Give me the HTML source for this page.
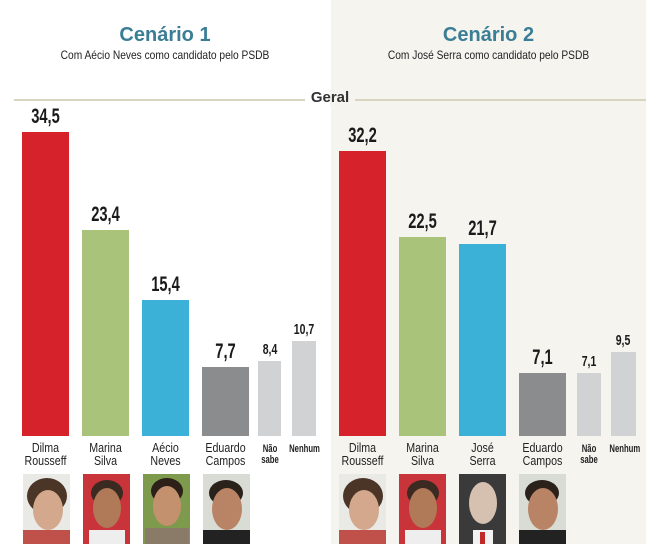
<!DOCTYPE html>
<html><head><meta charset="utf-8"><style>
body{margin:0;width:646px;height:544px;position:relative;overflow:hidden;background:#fff;font-family:"Liberation Sans Narrow","Liberation Sans",sans-serif;}
div{position:absolute;}
.bar{bottom:108px;}
.v{text-align:center;color:#1a1a1a;font-size:21px;font-weight:bold;transform:scaleX(.7);white-space:nowrap;}
.vs{font-size:15px;}
.n{text-align:center;color:#222;font-size:13px;line-height:13px;transform:scaleX(.82);white-space:nowrap;}
.ns{font-size:11px;line-height:11px;font-weight:bold;transform:scaleX(.7);}
.p{top:474px;height:70px;width:47px;overflow:hidden;}
.h{border-radius:50%;}
</style></head><body>
<div style="left:331px;top:0;width:315px;height:544px;background:#f5f4ef"></div>
<div style="left:0;top:24px;width:330px;text-align:center;color:#3a7e96;font-weight:bold;font-size:20px;font-family:'Liberation Sans',sans-serif">Cenário 1</div>
<div style="left:331px;top:24px;width:315px;text-align:center;color:#3a7e96;font-weight:bold;font-size:20px;font-family:'Liberation Sans',sans-serif">Cenário 2</div>
<div style="left:0;top:48px;width:330px;text-align:center;font-size:12px;color:#222;transform:scaleX(.85)">Com Aécio Neves como candidato pelo PSDB</div>
<div style="left:331px;top:48px;width:315px;text-align:center;font-size:12px;color:#222;transform:scaleX(.85)">Com José Serra  como candidato pelo PSDB</div>
<div style="left:14px;top:99px;width:632px;height:2px;background:#d9d4c0"></div>
<div style="left:305px;top:89px;width:50px;text-align:center;background:linear-gradient(90deg,#fff 50%,#f5f4ef 50%);font-size:15px;font-weight:bold;color:#333;font-family:'Liberation Sans',sans-serif">Geral</div>

<div class="bar" style="left:22px;width:47px;top:132px;background:#d5222b"></div>
<div class="bar" style="left:82px;width:47px;top:230px;background:#a9c37a"></div>
<div class="bar" style="left:142px;width:47px;top:300px;background:#3cb1d7"></div>
<div class="bar" style="left:202px;width:47px;top:367px;background:#8b8c8e"></div>
<div class="bar" style="left:258px;width:23px;top:361px;background:#d1d2d4"></div>
<div class="bar" style="left:292px;width:24px;top:341px;background:#d1d2d4"></div>
<div class="v" style="left:12px;width:67px;top:105px">34,5</div>
<div class="v" style="left:72px;width:67px;top:203px">23,4</div>
<div class="v" style="left:132px;width:67px;top:273px">15,4</div>
<div class="v" style="left:192px;width:67px;top:340px">7,7</div>
<div class="v vs" style="left:250px;width:40px;top:341px">8,4</div>
<div class="v vs" style="left:284px;width:40px;top:321px">10,7</div>

<div class="bar" style="left:339px;width:47px;top:151px;background:#d5222b"></div>
<div class="bar" style="left:399px;width:47px;top:237px;background:#a9c37a"></div>
<div class="bar" style="left:459px;width:47px;top:244px;background:#3cb1d7"></div>
<div class="bar" style="left:519px;width:47px;top:373px;background:#8b8c8e"></div>
<div class="bar" style="left:577px;width:24px;top:373px;background:#d1d2d4"></div>
<div class="bar" style="left:611px;width:25px;top:352px;background:#d1d2d4"></div>
<div class="v" style="left:329px;width:67px;top:124px">32,2</div>
<div class="v" style="left:389px;width:67px;top:210px">22,5</div>
<div class="v" style="left:449px;width:67px;top:217px">21,7</div>
<div class="v" style="left:509px;width:67px;top:346px">7,1</div>
<div class="v vs" style="left:569px;width:40px;top:353px">7,1</div>
<div class="v vs" style="left:603px;width:40px;top:332px">9,5</div>

<div class="n" style="left:12px;width:67px;top:441px">Dilma<br>Rousseff</div>
<div class="n" style="left:72px;width:67px;top:441px">Marina<br>Silva</div>
<div class="n" style="left:132px;width:67px;top:441px">Aécio<br>Neves</div>
<div class="n" style="left:192px;width:67px;top:441px">Eduardo<br>Campos</div>
<div class="n ns" style="left:254px;width:32px;top:444px">Não<br>sabe</div>
<div class="n ns" style="left:284px;width:34px;top:444px">Nenhum</div>
<div class="n" style="left:329px;width:67px;top:441px">Dilma<br>Rousseff</div>
<div class="n" style="left:389px;width:67px;top:441px">Marina<br>Silva</div>
<div class="n" style="left:449px;width:67px;top:441px">José<br>Serra</div>
<div class="n" style="left:509px;width:67px;top:441px">Eduardo<br>Campos</div>
<div class="n ns" style="left:573px;width:32px;top:444px">Não<br>sabe</div>
<div class="n ns" style="left:604px;width:36px;top:444px">Nenhum</div>

<div class="p" style="left:23px;background:#e9e9e6"><div class="h" style="left:4px;top:4px;width:40px;height:36px;background:#4a3526"></div><div class="h" style="left:10px;top:16px;width:30px;height:40px;background:#d3a88c"></div><div style="left:0;top:56px;width:47px;height:14px;background:#c0504a"></div></div>
<div class="p" style="left:83px;background:#c8343a"><div class="h" style="left:8px;top:6px;width:32px;height:26px;background:#3b2a22"></div><div class="h" style="left:10px;top:14px;width:28px;height:40px;background:#b07a58"></div><div style="left:6px;top:56px;width:36px;height:14px;background:#eee"></div></div>
<div class="p" style="left:143px;background:#7e9a4c"><div class="h" style="left:8px;top:4px;width:32px;height:26px;background:#2c2018"></div><div class="h" style="left:10px;top:12px;width:28px;height:40px;background:#c4916f"></div><div style="left:2px;top:54px;width:44px;height:16px;background:#8a7a68"></div></div>
<div class="p" style="left:203px;background:#d8dcd4"><div class="h" style="left:6px;top:6px;width:34px;height:26px;background:#2b211b"></div><div class="h" style="left:9px;top:14px;width:30px;height:42px;background:#b98466"></div><div style="left:0;top:56px;width:47px;height:14px;background:#222"></div></div>
<div class="p" style="left:339px;background:#e9e9e6"><div class="h" style="left:4px;top:4px;width:40px;height:36px;background:#4a3526"></div><div class="h" style="left:10px;top:16px;width:30px;height:40px;background:#d3a88c"></div><div style="left:0;top:56px;width:47px;height:14px;background:#c0504a"></div></div>
<div class="p" style="left:399px;background:#c8343a"><div class="h" style="left:8px;top:6px;width:32px;height:26px;background:#3b2a22"></div><div class="h" style="left:10px;top:14px;width:28px;height:40px;background:#b07a58"></div><div style="left:6px;top:56px;width:36px;height:14px;background:#eee"></div></div>
<div class="p" style="left:459px;background:#3a3a3a"><div class="h" style="left:10px;top:8px;width:28px;height:42px;background:#d6c0b0"></div><div style="left:14px;top:56px;width:20px;height:14px;background:#f2f2f2"></div><div style="left:21px;top:58px;width:5px;height:12px;background:#c0282a"></div></div>
<div class="p" style="left:519px;background:#d8dcd4"><div class="h" style="left:6px;top:6px;width:34px;height:26px;background:#2b211b"></div><div class="h" style="left:9px;top:14px;width:30px;height:42px;background:#b98466"></div><div style="left:0;top:56px;width:47px;height:14px;background:#222"></div></div>
</body></html>
